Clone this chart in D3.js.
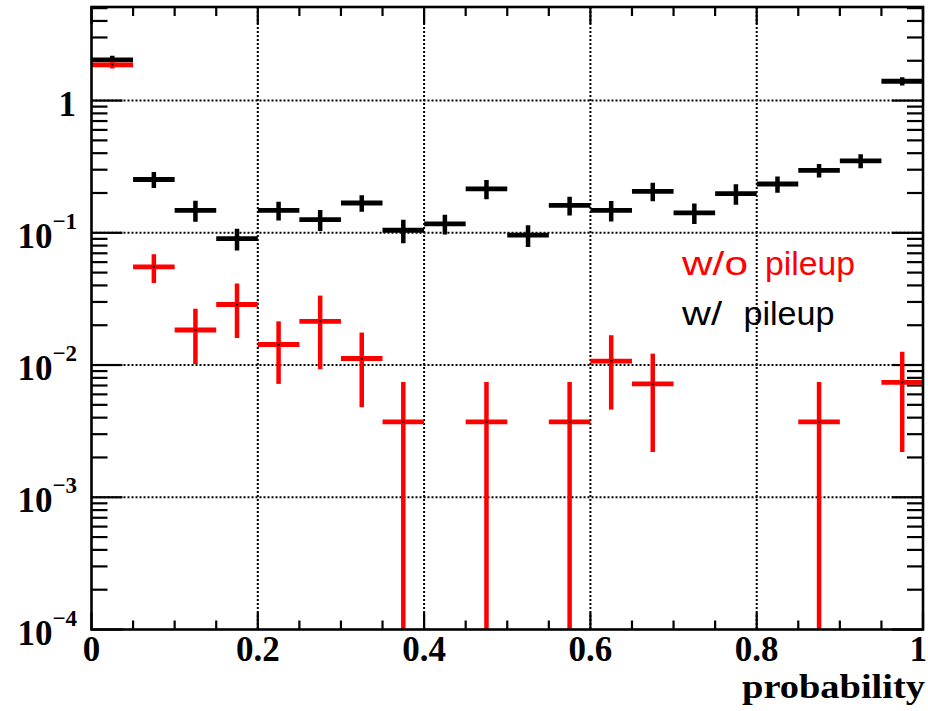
<!DOCTYPE html>
<html>
<head>
<meta charset="utf-8">
<script src="https://cdn.jsdelivr.net/npm/d3@7"></script>
<style>
  html, body { margin: 0; padding: 0; background: #fff; }
  svg { display: block; }
</style>
</head>
<body>
<svg id="chart" width="928" height="711"></svg>
<script>
// ---- data ----
const binCenters = [0.025,0.075,0.125,0.175,0.225,0.275,0.325,0.375,0.425,0.475,
                    0.525,0.575,0.625,0.675,0.725,0.775,0.825,0.875,0.925,0.975];
const binWidth = 0.05;
const withPileup    = [2.03,0.253,0.148,0.0905,0.148,0.126,0.168,0.1045,0.117,0.215,
                       0.096,0.161,0.148,0.206,0.1415,0.198,0.234,0.297,0.35,1.40];
const withPileupErr = [0.15,0.035,0.027,0.017,0.024,0.023,0.024,0.021,0.02,0.036,
                       0.018,0.026,0.026,0.033,0.025,0.035,0.033,0.035,0.042,0.10];
const withoutPileup    = [1.86,0.0553,0.0184,0.0287,0.0143,0.0214,0.0112,0.00372,0,0.00372,
                          0,0.00372,0.0107,0.0072,0,0,0,0.00372,0,0.0074];
const withoutPileupErr = [0.11,0.0136,0.0082,0.0127,0.0071,0.0121,0.0064,0.00372,0,0.00372,
                          0,0.00372,0.0061,0.005,0,0,0,0.00372,0,0.0052];
const xTickLabels = ["0","0.2","0.4","0.6","0.8","1"];
const xTickValues = [0,0.2,0.4,0.6,0.8,1];
const yDecades = [1e-4,1e-3,1e-2,1e-1,1];
const yDecadeExp = ["-4","-3","-2","-1",""];
const legendLabels = ["w/o", "w/"];
const legendWord = "pileup";
const xTitle = "probability";
const yDomain = [1e-4, 5.1];

// ---- layout ----
const L = 91.5, R = 923, T = 7, B = 629.5;
const svg = d3.select("#chart");
const x = d3.scaleLinear().domain([0,1]).range([L,R]);
const y = d3.scaleLog().domain(yDomain).range([B,T]);

svg.append("defs").append("clipPath").attr("id","clip")
  .append("rect").attr("x",L).attr("y",T).attr("width",R-L).attr("height",B-T);

// grid
const grid = svg.append("g").attr("stroke","#000").attr("stroke-width",2).attr("stroke-dasharray","2,2");
xTickValues.filter(v => v>0 && v<1).forEach(v => {
  grid.append("line").attr("x1",x(v)).attr("x2",x(v)).attr("y1",T).attr("y2",B);
});
yDecades.filter(v => v>1e-4).forEach(v => {
  grid.append("line").attr("x1",L).attr("x2",R).attr("y1",y(v)).attr("y2",y(v));
});

// ticks
const tk = svg.append("g").attr("stroke","#000").attr("stroke-width",2.2);
d3.range(0,21).forEach(i => {
  const v = i*0.05;
  const major = (i % 4 === 0);
  const len = major ? 17 : 9;
  tk.append("line").attr("x1",x(v)).attr("x2",x(v)).attr("y1",B).attr("y2",B-len);
  tk.append("line").attr("x1",x(v)).attr("x2",x(v)).attr("y1",T).attr("y2",T+len);
});
y.ticks().forEach(v => {
  if (v < yDomain[0] || v > yDomain[1]) return;
  const m = v / Math.pow(10, Math.floor(Math.log10(v)+1e-9));
  const major = Math.abs(m-1) < 1e-6;
  const len = major ? 31 : 16;
  tk.append("line").attr("x1",L).attr("x2",L+len).attr("y1",y(v)).attr("y2",y(v));
  tk.append("line").attr("x1",R).attr("x2",R-len).attr("y1",y(v)).attr("y2",y(v));
});

// histograms
function drawHist(vals, errs, color, dot) {
  const g = svg.append("g").attr("clip-path","url(#clip)");
  vals.forEach((v,i) => {
    if (!(v > 0)) return;
    const c = binCenters[i];
    g.append("line").attr("x1",x(c-binWidth/2)).attr("x2",x(c+binWidth/2))
      .attr("y1",y(v)).attr("y2",y(v)).attr("stroke",color).attr("stroke-width",4.8);
    const lo = Math.max(v - errs[i], 1e-6), hi = v + errs[i];
    g.append("line").attr("x1",x(c)).attr("x2",x(c))
      .attr("y1",Math.min(y(lo), B+10)).attr("y2",y(hi)).attr("stroke",color).attr("stroke-width",4.5);
    if (dot) g.append("rect").attr("x",x(c)-1).attr("y",y(v)-1).attr("width",2).attr("height",2).attr("fill","#000");
  });
}
drawHist(withPileup, withPileupErr, "#000", false);
drawHist(withoutPileup, withoutPileupErr, "#ff0000", true);

// frame
svg.append("rect").attr("x",L).attr("y",T).attr("width",R-L).attr("height",B-T)
  .attr("fill","none").attr("stroke","#000").attr("stroke-width",2.6);

// x labels
const serif = "'Liberation Serif','Times New Roman',serif";
xTickValues.forEach((v,i) => {
  const last = (i === xTickValues.length-1);
  svg.append("text").attr("x", last ? 927 : x(v)).attr("y",661)
    .attr("text-anchor", last ? "end" : "middle")
    .attr("font-family",serif).attr("font-weight","bold").attr("font-size",35).text(xTickLabels[i]);
});
// y labels
yDecades.forEach((v,i) => {
  const t = svg.append("text").attr("y",y(v)+15).attr("text-anchor","end")
    .attr("font-family",serif).attr("font-weight","bold").attr("font-size",35);
  if (yDecadeExp[i] === "") {
    t.attr("x",76).text("1");
  } else {
    t.attr("x",77);
    t.append("tspan").text("10");
    t.append("tspan").attr("font-size",23).attr("dy",-19).text("\u2212" + yDecadeExp[i].replace("-",""));
  }
});
// axis title
svg.append("text").attr("x",925).attr("y",698).attr("text-anchor","end")
  .attr("font-family",serif).attr("font-weight","bold").attr("font-size",33)
  .attr("textLength",183).attr("lengthAdjust","spacingAndGlyphs").text(xTitle);

// legend
const sans = "'Liberation Sans',Arial,sans-serif";
const lg = [
  {label: legendLabels[0], color:"#ff0000", yb:275, w1:66, x2:765, w2:90},
  {label: legendLabels[1], color:"#000", yb:325, w1:40, x2:743.5, w2:91}
];
lg.forEach(d => {
  svg.append("text").attr("x",682).attr("y",d.yb).attr("fill",d.color)
    .attr("font-family",sans).attr("font-size",34)
    .attr("textLength",d.w1).attr("lengthAdjust","spacingAndGlyphs").text(d.label);
  svg.append("text").attr("x",d.x2).attr("y",d.yb).attr("fill",d.color)
    .attr("font-family",sans).attr("font-size",34)
    .attr("textLength",d.w2).attr("lengthAdjust","spacingAndGlyphs").text(legendWord);
});
</script>
</body>
</html>
